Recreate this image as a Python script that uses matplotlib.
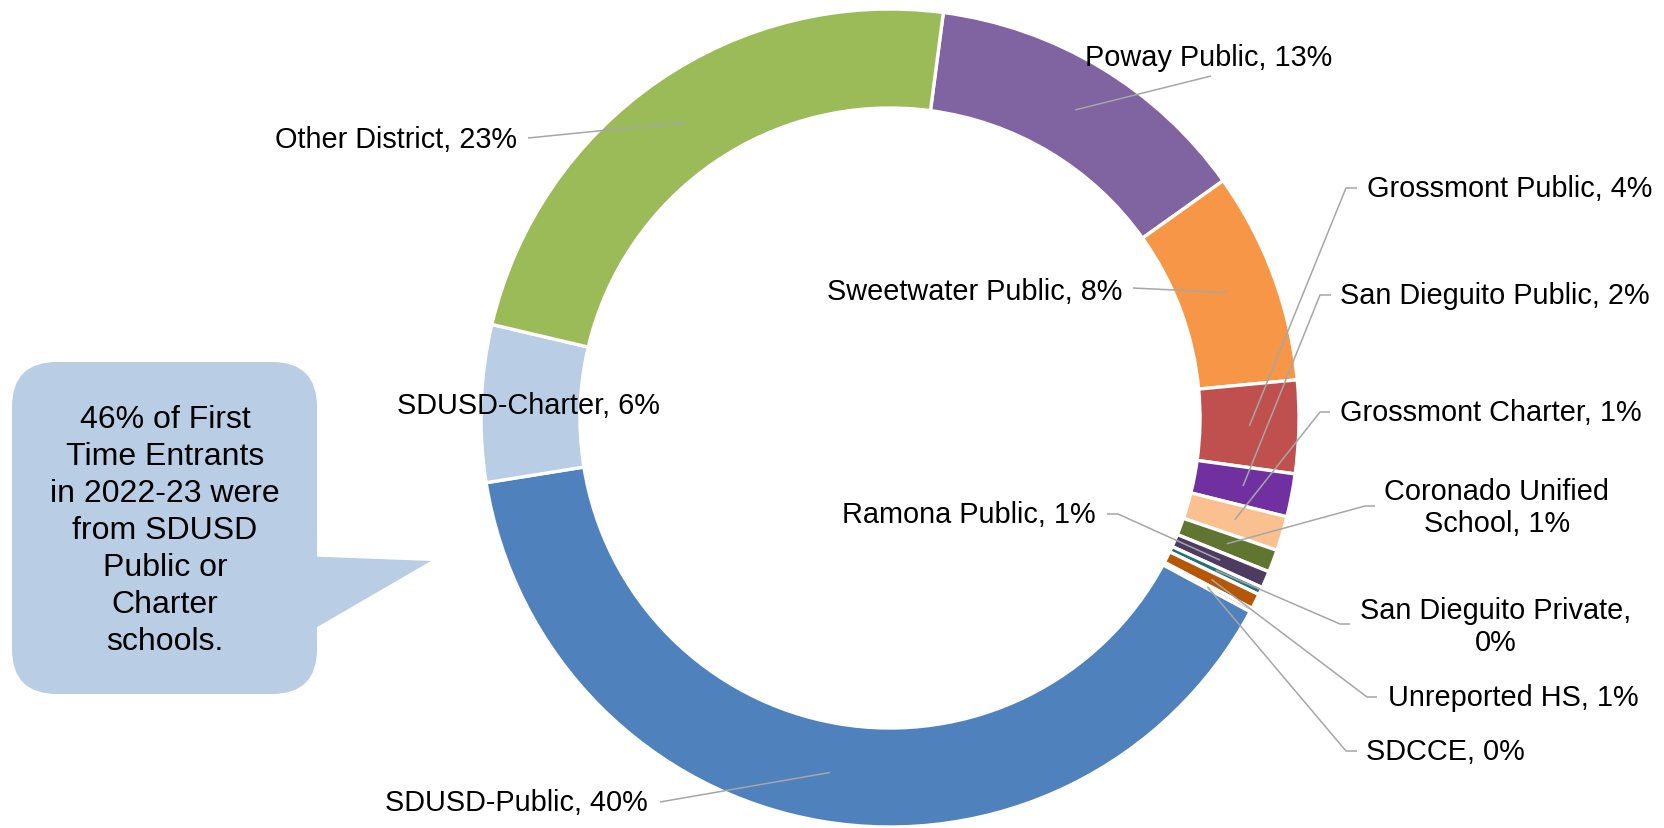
import matplotlib.pyplot as plt
from matplotlib.patches import FancyBboxPatch, Polygon
import numpy as np

plt.rcParams['font.family'] = ['Liberation Sans', 'DejaVu Sans']

# share of first time entrants by prior school (percent)
sources = ['Poway Public', 'Sweetwater Public', 'Grossmont Public', 'San Dieguito Public',
           'Grossmont Charter', 'Coronado Unified\nSchool', 'Ramona Public', 'San Dieguito Private',
           'Unreported HS', 'SDCCE', 'SDUSD-Public', 'SDUSD-Charter', 'Other District']
shares = [13.06, 8.36, 3.67, 1.70, 1.36, 0.89, 0.67, 0.30, 0.60, 0.15, 39.60, 6.20, 23.40]
colors = ['#8064A2', '#F79646', '#C0504D', '#7030A0', '#FAC090', '#5F7530', '#4D3B62',
          '#23707E', '#B65708', '#7F7F7F', '#4F81BD', '#B9CDE5', '#9BBB59']

callout = '46% of First\nTime Entrants\nin 2022-23 were\nfrom SDUSD\nPublic or\nCharter\nschools.'

W, H = 1664, 829
cx, cy, R, ring = 890, 419, 409, 99
FS = 20.8
LINE = '#A6A6A6'

# label layout in pixel coords (y down): text x, text y, ha, knee points of leader, separator
layout = {
    'Poway Public':        (1209, 58, 'center', [(1211, 77)], ', '),
    'Sweetwater Public':   (1122, 292, 'right', [(1133, 289)], ', '),
    'Grossmont Public':    (1367, 189, 'left', [(1346, 189), (1357, 189)], ', '),
    'San Dieguito Public': (1340, 296, 'left', [(1320, 296), (1331, 296)], ', '),
    'Grossmont Charter':   (1340, 413, 'left', [(1320, 413), (1330, 413)], ', '),
    'Coronado Unified\nSchool': (1497, 508, 'center', [(1365, 507), (1375, 507)], ', '),
    'Ramona Public':       (1096, 515, 'right', [(1118, 515), (1107, 515)], ', '),
    'San Dieguito Private': (1496, 627, 'center', [(1340, 625), (1350, 625)], ',\n'),
    'Unreported HS':       (1388, 698, 'left', [(1367, 698), (1377, 698)], ', '),
    'SDCCE':               (1366, 752, 'left', [(1346, 752), (1357, 752)], ', '),
    'SDUSD-Public':        (648, 803, 'right', [(660, 803)], ', '),
    'SDUSD-Charter':       (528, 406, 'center', [], ', '),
    'Other District':      (517, 140, 'right', [(528, 139)], ', '),
}

fig = plt.figure(figsize=(W / 100, H / 100), dpi=100)
ax = fig.add_axes([0, 0, 1, 1])

wedges, _ = ax.pie(shares, colors=colors, startangle=82.5, counterclock=False,
                   radius=R, center=(cx, H - cy),
                   wedgeprops=dict(width=ring, edgecolor='white', linewidth=2.4))

total = sum(shares)
for w, name, v in zip(wedges, sources, shares):
    tx, ty, ha, knees, sep = layout[name]
    mid = np.deg2rad((w.theta1 + w.theta2) / 2)
    r_mid = R - ring / 2
    ax_ = cx + r_mid * np.cos(mid)
    ay_ = (H - cy) + r_mid * np.sin(mid)
    if knees:
        xs = [ax_] + [k[0] for k in knees]
        ys = [ay_] + [H - k[1] for k in knees]
        ax.plot(xs, ys, color=LINE, lw=1.1, solid_capstyle='butt', zorder=3)
    pct = round(v / total * 100)
    ax.text(tx, H - ty, f'{name}{sep}{pct}%', ha=ha, va='center', fontsize=FS,
            color='black', zorder=4, multialignment='center')

# callout bubble
box = FancyBboxPatch((12, H - 695), 305, 332, boxstyle='round,pad=0,rounding_size=45',
                     fc='#B9CDE5', ec='none', zorder=2)
ax.add_patch(box)
ax.add_patch(Polygon([(300, H - 557), (431, H - 562), (300, H - 638)], closed=True,
                     fc='#B9CDE5', ec='none', zorder=2))
ax.text(165, H - 531, callout, ha='center', va='center', fontsize=23,
        linespacing=1.31, zorder=3)

ax.set_xlim(0, W)
ax.set_ylim(0, H)
ax.set_aspect('equal')
ax.axis('off')

fig.savefig('out.png', dpi=100)
